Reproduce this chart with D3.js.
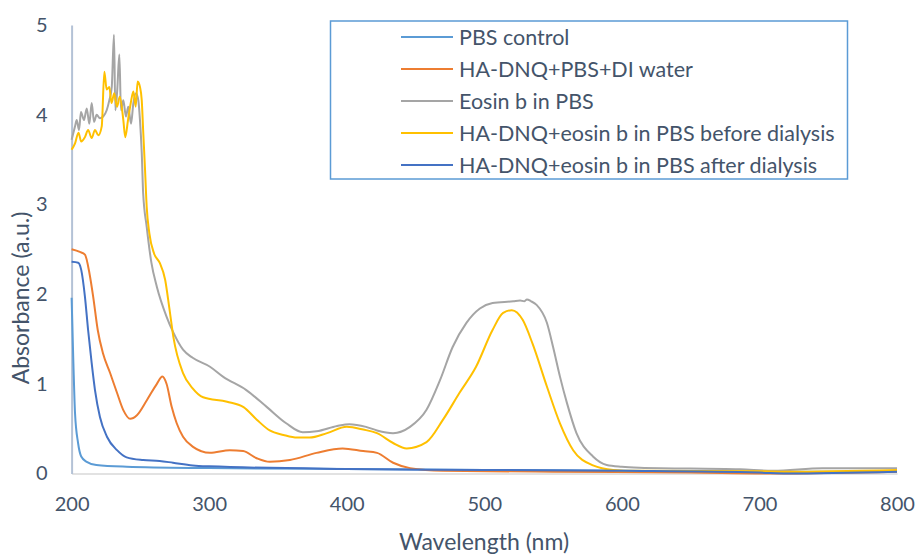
<!DOCTYPE html>
<meta charset="utf-8">
<body>
<script src="https://cdn.jsdelivr.net/npm/d3@7"></script>
<style>
    html, body {
        margin: 0;
        background: #fff;
    }
    text {
        font-family: Lato, "Open Sans", sans-serif;
        fill: #44546a;
    }
</style>
<script>
// absorbance spectra, [wavelength nm, absorbance]
var pbsControl = [[200,1.96],[201.3,1.23],[202.5,0.67],[204.7,0.34],[207,0.19],[211,0.13],[218,0.095],
    [240,0.076],[300,0.06],[400,0.05],[500,0.04],[600,0.03],[700,0.02],[800,0.02]];

var haDnqWater = [[200,2.5],[206,2.47],[209.7,2.44],[213,2.23],[215.7,1.97],[219,1.6],[222.8,1.34],[228,1.12],
    [233,0.9],[237.5,0.71],[242.6,0.61],[247.5,0.65],[254.8,0.82],[262,1.0],[266,1.08],[269,1.0],[272.8,0.74],
    [276.4,0.56],[281,0.41],[288,0.3],[300.6,0.23],[315,0.26],[324.7,0.25],[334.6,0.17],[344,0.13],[358.7,0.15],
    [378,0.23],[397,0.28],[412,0.25],[422,0.23],[433.7,0.12],[446,0.06],[470,0.03],[550,0.02],[650,0.01],
    [710,0.0],[800,0.02]];

var eosin = [[200,3.72],[202.5,3.87],[203.7,3.94],[205.4,3.83],[206.8,4.03],[209,3.94],[211,4.07],[212.9,3.9],
    [214.6,4.13],[216.3,3.92],[218.2,4.0],[220.6,3.96],[223,3.98],[225.5,4.05],[227.4,4.16],[229.2,4.31],
    [230.8,4.89],[231.8,4.05],[233.2,4.28],[234.7,4.67],[235.9,4.05],[237.6,4.16],[239.5,3.98],[241.2,4.09],
    [243.2,3.9],[244.9,4.13],[246.8,4.24],[248.5,4.16],[249.7,3.94],[251,3.57],[252,3.13],[254.6,2.75],
    [258,2.35],[262,2.08],[269,1.75],[274,1.57],[281,1.38],[288,1.29],[300.6,1.19],[310,1.08],[327,0.93],
    [342,0.74],[356,0.56],[368,0.46],[378,0.47],[393,0.53],[402,0.55],[414,0.52],[422,0.48],[433.7,0.45],
    [446,0.52],[458,0.71],[467.8,1.04],[477,1.41],[487,1.68],[496.8,1.84],[506,1.9],[521,1.92],[526,1.93],
    [529,1.92],[531,1.94],[534,1.92],[538,1.88],[545.5,1.68],[550,1.41],[555,1.08],[560,0.79],[567,0.45],
    [579,0.19],[589,0.095],[600,0.075],[613,0.065],[686,0.047],[710,0.03],[746,0.058],[800,0.058]];

var beforeDialysis = [[200,3.61],[202.5,3.68],[205,3.8],[207,3.7],[209.7,3.75],[212,3.83],[214.6,3.74],[217,3.83],
    [219.4,3.77],[221.9,3.87],[223.8,4.48],[225.5,4.28],[227.4,4.31],[229,4.13],[231,4.24],[233,4.09],[235,4.2],
    [237.6,3.94],[239,3.75],[241,3.94],[243,4.13],[244.9,4.26],[246.6,4.09],[248,4.37],[249.7,4.31],[251,4.16],
    [252,3.83],[253.4,3.38],[254.6,2.97],[256.5,2.68],[260,2.45],[264,2.35],[268,2.16],[271,1.85],[274,1.52],
    [281,1.12],[288,0.95],[295.6,0.85],[313,0.8],[325,0.74],[334.6,0.6],[344,0.48],[354,0.43],[364,0.4],
    [373,0.4],[385.7,0.45],[400,0.52],[412,0.49],[422,0.45],[433.7,0.34],[443.6,0.28],[458,0.35],[470,0.6],
    [482,0.9],[494,1.19],[506,1.6],[513.7,1.79],[520,1.82],[528,1.71],[535,1.45],[545.5,0.97],[555,0.56],
    [564.6,0.26],[579,0.09],[593.7,0.04],[610,0.03],[700,0.025],[720,0.02],[800,0.04]];

var afterDialysis = [[200,2.36],[204.8,2.35],[207,2.27],[209.7,1.97],[212,1.6],[214.6,1.23],[217,0.93],
    [220.6,0.63],[225.7,0.41],[233,0.26],[240,0.18],[252,0.15],[264,0.14],[273.7,0.12],[288,0.09],[300,0.08],
    [400,0.05],[500,0.04],[600,0.03],[700,0.01],[720,0.0],[800,0.02]];

var seriesNames = ["PBS control", "HA-DNQ+PBS+DI water", "Eosin b in PBS",
    "HA-DNQ+eosin b in PBS before dialysis", "HA-DNQ+eosin b in PBS after dialysis"];
var seriesData = [pbsControl, haDnqWater, eosin, beforeDialysis, afterDialysis];
var colors = ["#5b9bd5", "#ed7d31", "#a5a5a5", "#ffc000", "#4472c4"];

var xTicks = [200, 300, 400, 500, 600, 700, 800],
    yTicks = [0, 1, 2, 3, 4, 5];

var width = 921, height = 555;

var svg = d3.select("body").append("svg")
    .attr("width", width)
    .attr("height", height);

var x = d3.scaleLinear().domain([200, 800]).range([71.6, 897]),
    y = d3.scaleLinear().domain([0, 5]).range([473.5, 25]);

// axes
var xAxis = svg.append("g")
    .attr("transform", "translate(0," + y(0) + ")")
    .call(d3.axisBottom(x).tickValues(xTicks).tickFormat(d3.format("d")).tickSize(0).tickPadding(23));
xAxis.select(".domain").attr("stroke", "#d9d9d9").attr("stroke-width", 1.5);
xAxis.selectAll("text").attr("font-size", 20).attr("fill", "#44546a").style("font-family", null);

var yAxis = svg.append("g")
    .attr("transform", "translate(" + x(200) + ",0)")
    .call(d3.axisLeft(y).tickValues(yTicks).tickFormat(d3.format("d")).tickSize(0).tickPadding(24));
yAxis.select(".domain").attr("stroke", "#b4c2d6").attr("stroke-width", 2);
yAxis.selectAll("text").attr("font-size", 20).attr("fill", "#44546a").style("font-family", null);

svg.append("text")
    .attr("x", 484)
    .attr("y", 550)
    .attr("text-anchor", "middle")
    .attr("font-size", 23)
    .text("Wavelength (nm)");

svg.append("text")
    .attr("transform", "translate(29,298) rotate(-90)")
    .attr("text-anchor", "middle")
    .attr("font-size", 23)
    .text("Absorbance (a.u.)");

// lines
var line = d3.line()
    .x(function(d) { return x(d[0]); })
    .y(function(d) { return y(d[1]); })
    .curve(d3.curveMonotoneX);

svg.append("g").selectAll("path")
    .data(seriesData)
    .enter().append("path")
    .attr("fill", "none")
    .attr("stroke", function(d, i) { return colors[i]; })
    .attr("stroke-width", 2)
    .attr("stroke-linejoin", "round")
    .attr("d", line);

// legend
var legend = svg.append("g");
legend.append("rect")
    .attr("x", 330.5)
    .attr("y", 21)
    .attr("width", 517)
    .attr("height", 158)
    .attr("fill", "#fff")
    .attr("stroke", "#5b9bd5")
    .attr("stroke-width", 1.5);

var item = legend.selectAll(".item")
    .data(seriesNames)
    .enter().append("g")
    .attr("transform", function(d, i) { return "translate(0," + (37 + i * 32) + ")"; });

item.append("line")
    .attr("x1", 401).attr("x2", 453)
    .attr("stroke", function(d, i) { return colors[i]; })
    .attr("stroke-width", 2);

item.append("text")
    .attr("x", 459)
    .attr("y", 7.5)
    .attr("font-size", 21.5)
    .text(function(d) { return d; });
</script>
